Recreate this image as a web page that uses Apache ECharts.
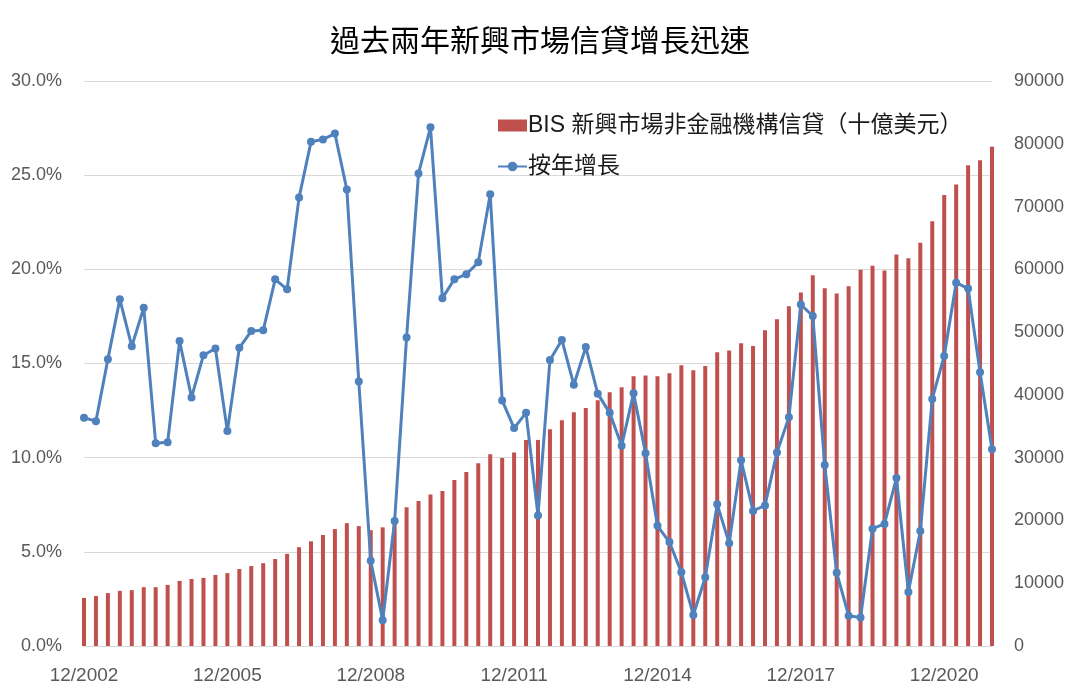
<!DOCTYPE html>
<html>
<head>
<meta charset="utf-8">
<script src="https://cdn.jsdelivr.net/npm/echarts@6/dist/echarts.min.js"></script>
<style>
html,body{margin:0;padding:0;background:#fff;}
#chart{width:1080px;height:695px;}
</style>
</head>
<body>
<div id="chart"></div>
<script>
var categories = [
'12/2002',
'03/2003','06/2003','09/2003','12/2003',
'03/2004','06/2004','09/2004','12/2004',
'03/2005','06/2005','09/2005','12/2005',
'03/2006','06/2006','09/2006','12/2006',
'03/2007','06/2007','09/2007','12/2007',
'03/2008','06/2008','09/2008','12/2008',
'03/2009','06/2009','09/2009','12/2009',
'03/2010','06/2010','09/2010','12/2010',
'03/2011','06/2011','09/2011','12/2011',
'03/2012','06/2012','09/2012','12/2012',
'03/2013','06/2013','09/2013','12/2013',
'03/2014','06/2014','09/2014','12/2014',
'03/2015','06/2015','09/2015','12/2015',
'03/2016','06/2016','09/2016','12/2016',
'03/2017','06/2017','09/2017','12/2017',
'03/2018','06/2018','09/2018','12/2018',
'03/2019','06/2019','09/2019','12/2019',
'03/2020','06/2020','09/2020','12/2020',
'03/2021','06/2021','09/2021','12/2021'
];

var creditBn = [
7660,7960,8430,8780,8900,9370,9370,9730,10370,10670,
10850,11320,11610,12260,12730,13200,13850,14680,15740,16680,
17680,18630,19570,19100,18450,18900,20000,22100,23080,24140,
24700,26460,27700,29120,30530,29940,30830,32830,32830,34540,
35950,37250,37900,39140,40430,41200,42970,43080,42970,43440,
44740,43910,44620,46800,47090,48210,47800,50280,52040,54110,
56290,59060,56990,56170,57290,59940,60590,59820,62360,61770,
64240,67660,71850,73500,76560,77390,79510
];

var growthPct = [
12.12,11.94,15.23,18.41,15.91,17.96,10.77,10.82,16.19,13.20,
15.44,15.80,11.41,15.83,16.72,16.76,19.47,18.94,23.81,26.77,
26.90,27.21,24.24,14.05,4.52,1.37,6.64,16.38,25.09,27.54,
18.47,19.47,19.74,20.37,23.99,13.04,11.57,12.38,6.93,15.19,
16.25,13.87,15.87,13.40,12.38,10.63,13.42,10.24,6.38,5.52,
3.91,1.65,3.65,7.52,5.46,9.86,7.17,7.46,10.28,12.14,
18.13,17.52,9.61,3.89,1.61,1.51,6.23,6.48,8.92,2.87,
6.11,13.12,15.40,19.29,18.98,14.54,10.45
];

var leftTicks = {min: 0, max: 30, interval: 5};
var rightTicks = {min: 0, max: 90000, interval: 10000};

var chart = echarts.init(document.getElementById('chart'), null, {renderer: 'canvas'});
var labelFont = '"Liberation Sans", Arial, sans-serif';
var cjkFont = '"Noto Sans CJK TC", "Noto Sans CJK SC", sans-serif';

chart.setOption({
  animation: false,
  backgroundColor: '#ffffff',
  title: {
    text: '過去兩年新興市場信貸增長迅速',
    left: 'center',
    top: 25,
    padding: 0,
    textStyle: {fontFamily: cjkFont, fontSize: 30, fontWeight: 'normal', color: '#000000'}
  },
  legend: {
    orient: 'vertical',
    left: 497,
    top: 114,
    itemWidth: 29,
    itemHeight: 12,
    itemGap: 18,
    padding: 0,
    textStyle: {fontFamily: '"Liberation Sans", ' + cjkFont, fontSize: 23, color: '#1a1a1a', padding: [0, 0, 0, -4]},
    data: [
      {name: 'BIS 新興市場非金融機構信貸（十億美元）', icon: 'rect'},
      {name: '按年增長'}
    ]
  },
  grid: {left: 84, right: 88, top: 81, bottom: 49, containLabel: false},
  xAxis: {
    type: 'category',
    data: categories,
    boundaryGap: false,
    axisLine: {show: true, lineStyle: {color: '#d9d9d9', width: 1}},
    axisTick: {show: false},
    axisLabel: {interval: 11, margin: 20, fontFamily: labelFont, fontSize: 19, color: '#595959'},
    splitLine: {show: false}
  },
  yAxis: [
    {
      type: 'value',
      min: leftTicks.min, max: leftTicks.max, interval: leftTicks.interval,
      position: 'left',
      axisLine: {show: false},
      axisTick: {show: false},
      axisLabel: {margin: 22, fontFamily: labelFont, fontSize: 18, color: '#595959',
        formatter: function (v) { return v.toFixed(1) + '%'; }},
      splitLine: {show: true, lineStyle: {color: '#d9d9d9', width: 1}}
    },
    {
      type: 'value',
      min: rightTicks.min, max: rightTicks.max, interval: rightTicks.interval,
      position: 'right',
      axisLine: {show: false},
      axisTick: {show: false},
      axisLabel: {margin: 22, fontFamily: labelFont, fontSize: 18, color: '#595959',
        formatter: function (v) { return String(v); }},
      splitLine: {show: false}
    }
  ],
  series: [
    {
      name: 'BIS 新興市場非金融機構信貸（十億美元）',
      type: 'bar',
      yAxisIndex: 1,
      data: creditBn,
      barWidth: 4,
      itemStyle: {color: '#c0504d'}
    },
    {
      name: '按年增長',
      type: 'line',
      yAxisIndex: 0,
      data: growthPct,
      symbol: 'circle',
      symbolSize: 8,
      showSymbol: true,
      showAllSymbol: true,
      lineStyle: {color: '#4f81bd', width: 3},
      itemStyle: {color: '#4f81bd'}
    }
  ]
});
</script>
</body>
</html>
